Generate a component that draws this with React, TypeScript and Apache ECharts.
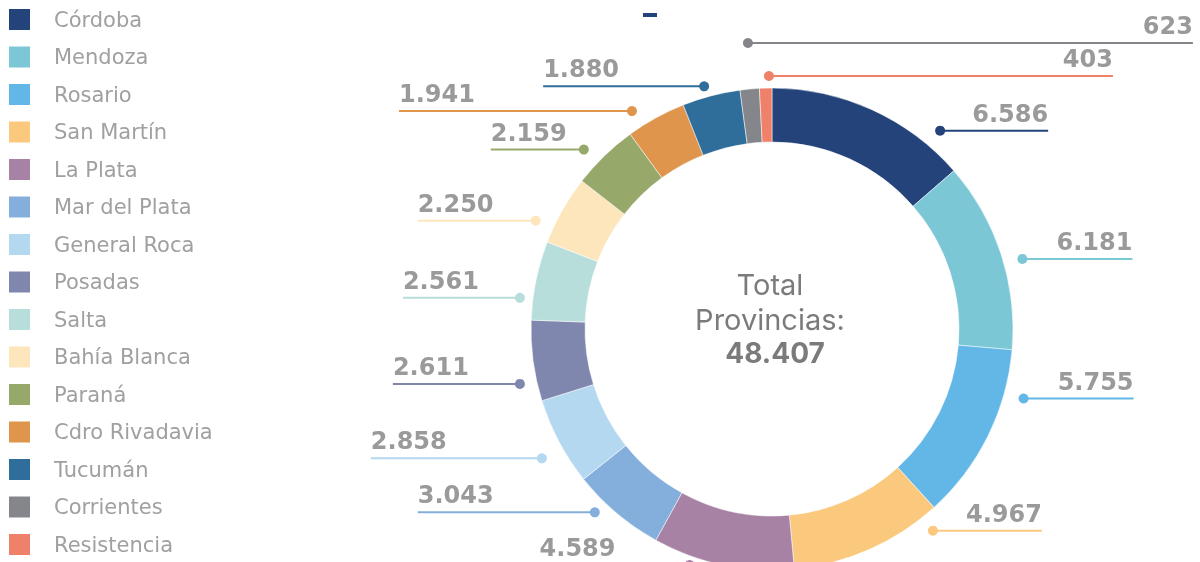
import React, { useEffect, useRef } from "react";
import * as echarts from "echarts";

const names = [
  "Córdoba", "Mendoza", "Rosario", "San Martín", "La Plata", "Mar del Plata",
  "General Roca", "Posadas", "Salta", "Bahía Blanca", "Paraná",
  "Cdro Rivadavia", "Tucumán", "Corrientes", "Resistencia",
];
const values = [6586, 6181, 5755, 4967, 4589, 3043, 2858, 2611, 2561, 2250, 2159, 1941, 1880, 623, 403];
const colors = [
  "#23437a", "#7cc7d6", "#62b7e6", "#fbc97e", "#a882a5", "#84afdd",
  "#b5d8f1", "#8087ae", "#b8dedb", "#fde6bc", "#97a96a", "#df954c",
  "#2f6e9b", "#84868b", "#ef816a",
];
const centerLines = ["Total", "Provincias:"];

// label annotation layout (not data)
const labelSide = ["r", "r", "r", "r", "l", "l", "l", "l", "l", "l", "l", "l", "l", "r", "r"];
const angleNudge = [15.8, 2.4, -10.9, -14.8, 7.5, 3.9, -1.4, -4.7, -4.6, -4.9, -2.3, -3.9, -1, 0.5, 0.8];
const dotRadius = [260, 260, 261, 258, 250, 255, 264, 258, 254, 260, 260, 259, 252, 287, 253];
const lineLen = [108, 110, 110, 109, 150, 177, 171, 127, 117, 118, 93, 233, 161, 445, 344];

const CX = 772;
const CY = 329;

const fmt = (v: number) => String(v).replace(/\B(?=(\d{3})+(?!\d))/g, ".");

function anchors() {
  const total = values.reduce((a, b) => a + b, 0);
  let cum = 0;
  return values.map((v, i) => {
    const mid = ((cum + v / 2) / total) * 360 + angleNudge[i];
    cum += v;
    const rad = (mid * Math.PI) / 180;
    const x = CX + dotRadius[i] * Math.sin(rad);
    const y = CY - dotRadius[i] * Math.cos(rad);
    const endX = labelSide[i] === "r" ? x + lineLen[i] : x - lineLen[i];
    return { x, y, endX };
  });
}

export default function App() {
  const ref = useRef<HTMLDivElement>(null);
  useEffect(() => {
    if (!ref.current) return;
    const chart = echarts.init(ref.current, null, { renderer: "svg" });
    const total = values.reduce((a, b) => a + b, 0);
    const pts = anchors();
    chart.setOption({
      animation: false,
      color: colors,
      legend: {
        orient: "vertical",
        left: 7,
        top: 7,
        padding: 0,
        height: 555,
        itemWidth: 23,
        itemHeight: 23,
        itemGap: 12.5,
        icon: "rect",
        data: names,
        textStyle: {
          fontFamily: "DejaVu Sans",
          fontSize: 21,
          lineHeight: 23,
          color: "#a0a0a0",
          padding: [0, 0, 0, 18],
        },
      },
      graphic: [
        { type: "rect", left: 643, top: 13, shape: { width: 14, height: 4 }, style: { fill: "#23437a" } },
        ...pts.map((p, i) => ({
          type: "circle",
          shape: { cx: p.x, cy: p.y, r: 5 },
          style: { fill: colors[i] },
          z: 10,
        })),
        {
          type: "text",
          x: 770,
          y: 284,
          style: {
            text: centerLines[0],
            font: "400 29px Inter",
            fill: "#7b7b7b",
            textAlign: "center",
            textVerticalAlign: "middle",
          },
        },
        {
          type: "text",
          x: 770,
          y: 319,
          style: {
            text: centerLines[1],
            font: "400 29px Inter",
            fill: "#7b7b7b",
            textAlign: "center",
            textVerticalAlign: "middle",
          },
        },
        {
          type: "text",
          x: 775,
          y: 353,
          style: {
            text: fmt(total),
            font: "700 28px Inter",
            fill: "#7b7b7b",
            textAlign: "center",
            textVerticalAlign: "middle",
          },
        },
      ],
      series: [
        {
          type: "pie",
          center: [CX, CY],
          radius: [187, 241],
          startAngle: 90,
          clockwise: true,
          itemStyle: { borderColor: "#ffffff", borderWidth: 0.5 },
          data: names.map((n, i) => ({ name: n, value: values[i] })),
          label: {
            show: true,
            position: "outside",
            formatter: (p: any) => fmt(p.value),
            color: "#9a9a9a",
            fontFamily: "DejaVu Sans",
            fontWeight: "bold",
            fontSize: 24,
          },
          labelLine: { show: true, length: 10, length2: 10, lineStyle: { width: 2 } },
          labelLayout: (params: any) => {
            const i = params.dataIndex;
            const p = pts[i];
            return {
              x: p.endX,
              y: p.y - 5,
              align: labelSide[i] === "r" ? "right" : "left",
              verticalAlign: "bottom",
              labelLinePoints: [
                [p.x, p.y],
                [(p.x + p.endX) / 2, p.y],
                [p.endX, p.y],
              ],
            };
          },
          emphasis: { disabled: true },
        },
      ],
    });
    return () => chart.dispose();
  }, []);
  return (
    <div
      ref={ref}
      style={{ position: "fixed", left: 0, top: 0, width: 1200, height: 562 }}
    />
  );
}
